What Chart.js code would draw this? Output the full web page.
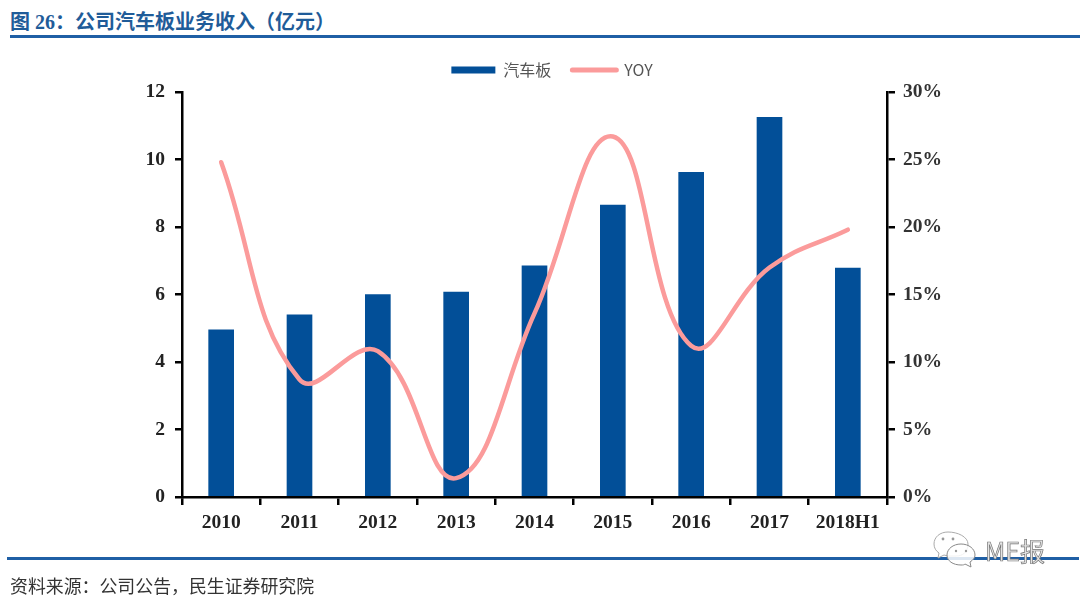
<!DOCTYPE html>
<html>
<head>
<meta charset="utf-8">
<script src="https://cdn.jsdelivr.net/npm/chart.js@4"></script>
<style>
  html, body { margin: 0; padding: 0; background: #fff; }
  #page { position: relative; width: 1080px; height: 598px; overflow: hidden; }
  #myChart { position: absolute; left: 0; top: 0; }
  .txt { position: absolute; white-space: nowrap; }
  #title { left: 10px; top: 7px; font: bold 20px/28px "Liberation Serif", "Noto Sans CJK SC"; color: #1f5c99; }
  #title span { font-family: "Noto Sans CJK SC"; }
  #source { left: 10px; top: 572px; font: 17.9px/26px "Noto Sans CJK SC"; color: #333; }
  .rule { position: absolute; height: 3px; background: #1f5fa5; }
  #mark { left: 985px; top: 533px; font: 25px/34px "Noto Sans CJK SC"; color: #e4e4e4; -webkit-text-stroke: 0.7px #777; }
  #bubbles { position: absolute; left: 932px; top: 531px; }
</style>
</head>
<body>
<div id="page">
  <div class="txt" id="title">图 26：<span>公司汽车板业务收入（亿元）</span></div>
  <div class="rule" style="left:10px;top:35px;width:1070px"></div>
  <canvas id="myChart" width="1080" height="598"></canvas>
  <div class="rule" style="left:7px;top:557px;width:1072px"></div>
  <div class="txt" id="source">资料来源：公司公告，民生证券研究院</div>
  <svg id="bubbles" width="46" height="38" viewBox="0 0 46 38">
    <path d="M16 1C8 1 2 6 2 13c0 4 2 7 5 9l-1 5 6-3c1 0 3 1 4 1h8c6 0 12-3 12-12C36 6 26 1 16 1z" fill="#fff" fill-opacity="0.85" stroke="#aaa" stroke-width="1"/>
    <path d="M29 13c-8 0-14 5-14 11s6 10 14 10c2 0 3 0 4-1l6 3-1-5c3-2 5-4 5-7 0-6-6-11-14-11z" fill="#fff" fill-opacity="0.85" stroke="#888" stroke-width="1"/>
    <circle cx="11" cy="8" r="1.4" fill="#999"/><circle cx="21" cy="8" r="1.4" fill="#999"/>
    <circle cx="24" cy="20" r="1.2" fill="#999"/><circle cx="34" cy="20" r="1.2" fill="#999"/>
  </svg>
  <div class="txt" id="mark">ME报</div>
</div>
<script>
const categories = ['2010', '2011', '2012', '2013', '2014', '2015', '2016', '2017', '2018H1'];
const revenue = [4.95, 5.4, 6.0, 6.07, 6.85, 8.65, 9.62, 11.25, 6.78];
const yoy = [24.8, 8.7, 10.8, 1.4, 13.6, 26.7, 11.2, 17.0, 19.8];

const ctx = document.getElementById('myChart');
const serif = 'Liberation Serif';
const tickFont = { family: serif, size: 19.5, weight: 'bold' };

new Chart(ctx, {
    data: {
        labels: categories,
        datasets: [{
            type: 'bar',
            label: '汽车板',
            data: revenue,
            yAxisID: 'y',
            backgroundColor: '#024f98',
            barThickness: 25,
            order: 2
        }, {
            type: 'line',
            label: 'YOY',
            data: yoy,
            yAxisID: 'y1',
            borderColor: '#fb9b9b',
            backgroundColor: '#fb9b9b',
            borderWidth: 4.5,
            borderCapStyle: 'round',
            pointRadius: 0,
            tension: 0.42,
            order: 1
        }]
    },
    options: {
        responsive: false,
        animation: false,
        layout: { padding: { left: 24, right: 0, top: 41, bottom: 61 } },
        plugins: {
            tooltip: { enabled: false },
            legend: {
                position: 'top',
                labels: {
                    usePointStyle: true,
                    pointStyleWidth: 44,
                    boxHeight: 7,
                    padding: 21,
                    color: '#555',
                    font: { family: 'Noto Sans CJK SC', size: 16 },
                    generateLabels: (chart) => chart.data.datasets.map((d, i) => ({
                        text: d.label,
                        fillStyle: d.backgroundColor,
                        strokeStyle: d.backgroundColor,
                        fontColor: '#555',
                        lineWidth: i ? 5 : 0,
                        lineCap: 'round',
                        pointStyle: i ? 'line' : 'rect',
                        datasetIndex: i
                    }))
                }
            }
        },
        scales: {
            x: {
                position: 'bottom',
                afterFit: (s) => { s.height = 40; },
                grid: { drawOnChartArea: false, offset: true, color: '#000', lineWidth: 2.5, tickLength: 8 },
                border: { color: '#000', width: 2.5 },
                ticks: { color: '#222', font: tickFont, maxRotation: 0, autoSkip: false, padding: 6 }
            },
            y: {
                position: 'left',
                min: 0,
                max: 12,
                afterFit: (s) => { s.width = 158; },
                grid: { drawOnChartArea: false, color: '#000', lineWidth: 2.5, tickLength: 7 },
                border: { color: '#000', width: 2.5 },
                ticks: { stepSize: 2, color: '#222', font: tickFont, padding: 10 }
            },
            y1: {
                position: 'right',
                min: 0,
                max: 30,
                afterFit: (s) => { s.width = 193; },
                grid: { drawOnChartArea: false, color: '#000', lineWidth: 2.5, tickLength: 8 },
                border: { color: '#000', width: 2.5 },
                ticks: { stepSize: 5, callback: (v) => v + '%', color: '#333', font: tickFont, padding: 8 }
            }
        }
    },
    plugins: [{
        id: 'legendGap',
        beforeInit(chart) {
            // push the plot down a little without moving the legend
            const fit = chart.legend.fit;
            chart.legend.fit = function () {
                fit.call(this);
                this.height += 4;
            };
        }
    }]
});
</script>
</body>
</html>
